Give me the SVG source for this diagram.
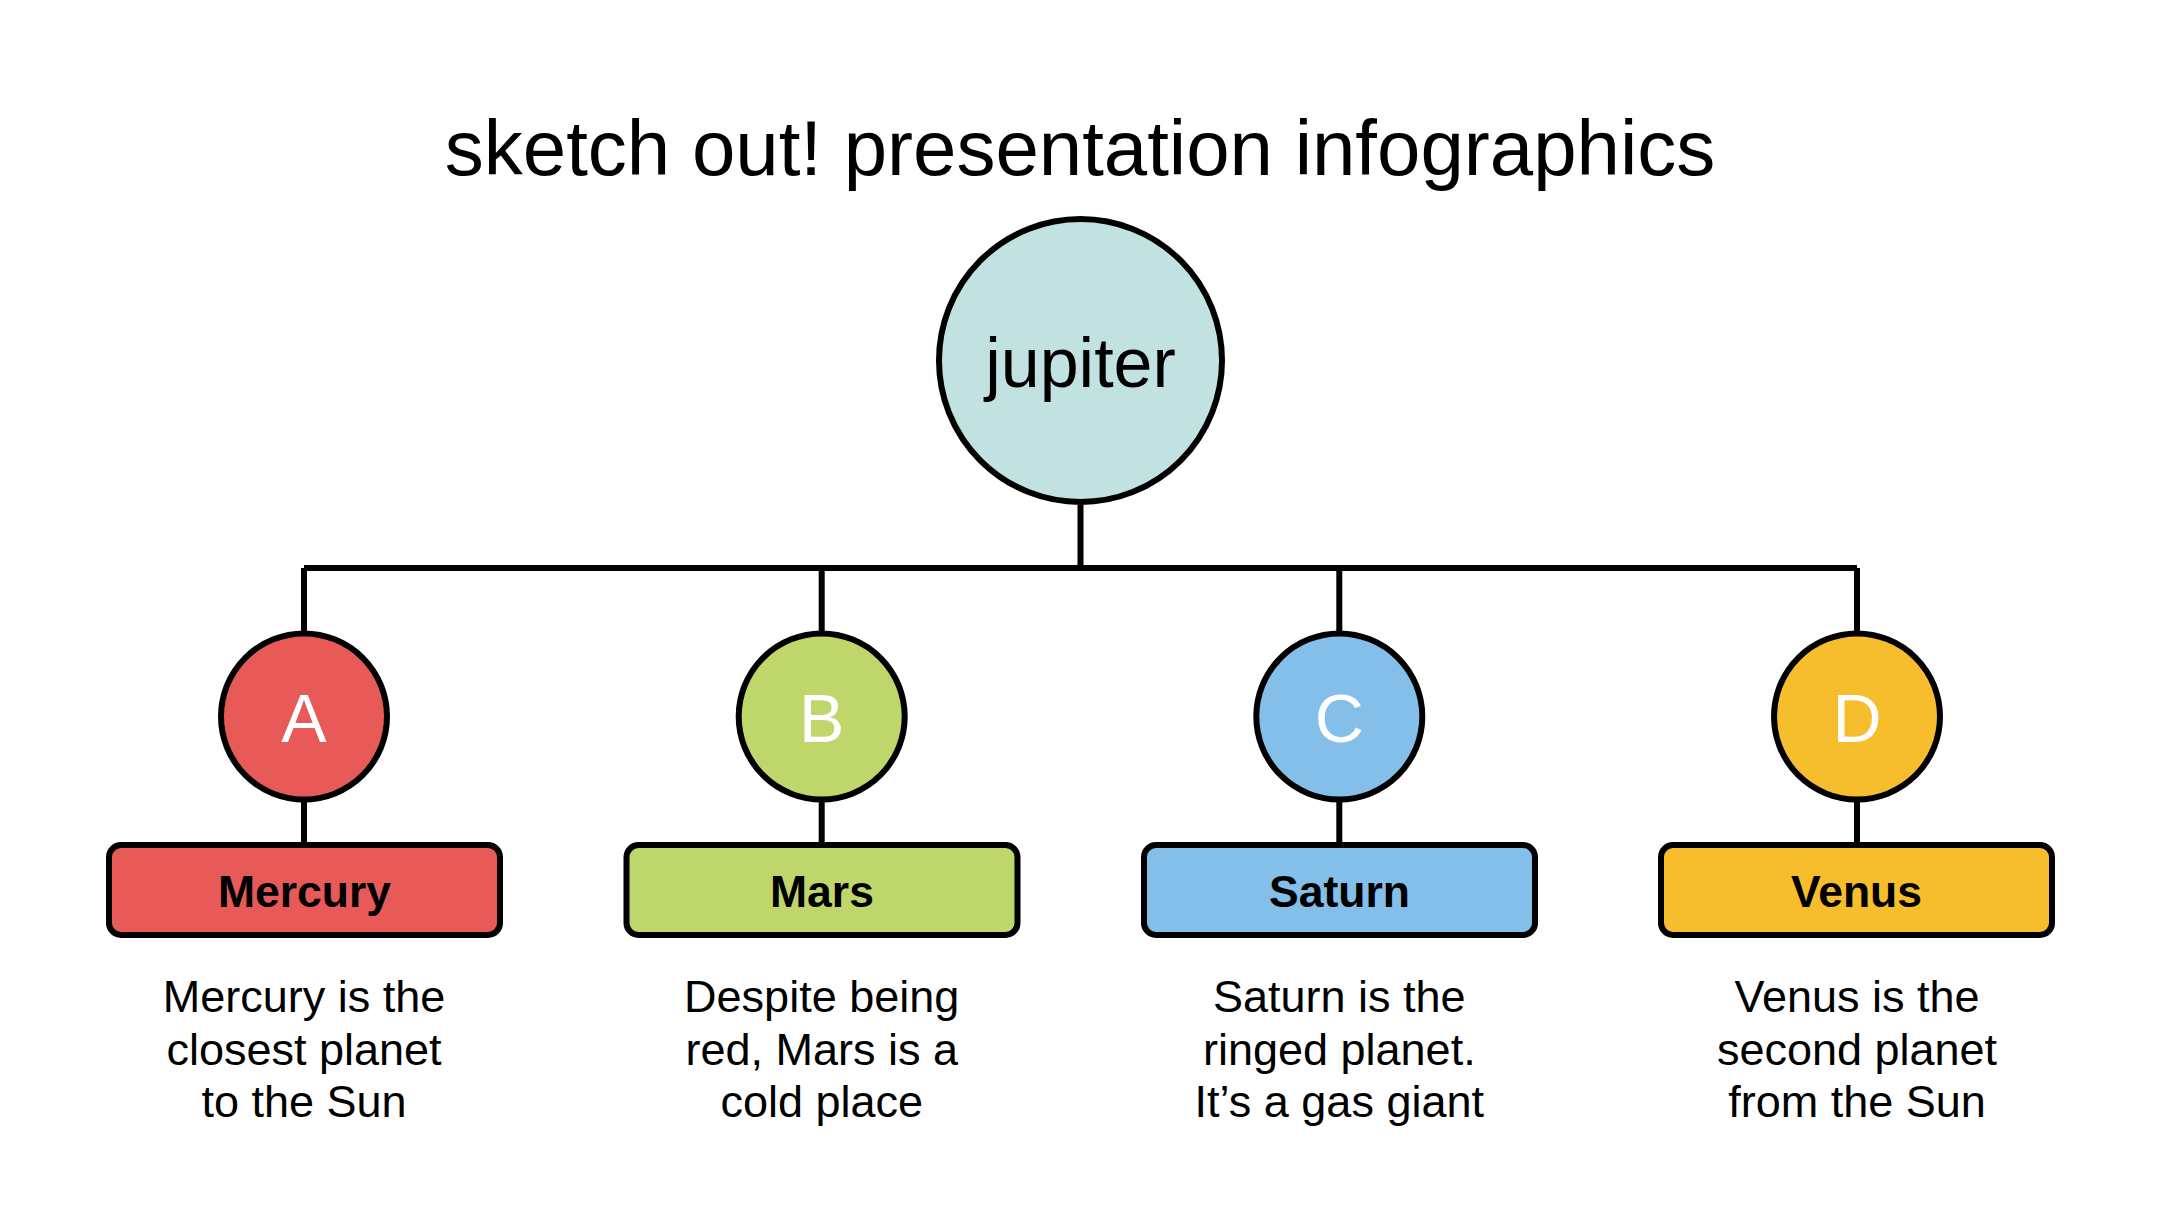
<svg xmlns="http://www.w3.org/2000/svg" width="2160" height="1215" viewBox="0 0 2160 1215">
<style>
.ln{stroke:#000;stroke-width:6;fill:none}
.ol{stroke:#000;stroke-width:6}
.t{font-family:"Liberation Sans",Arial,sans-serif;fill:#000;text-anchor:middle}
.title{font-size:78px}
.big{font-size:70px}
.let{font-size:68px;fill:#fff}
.lab{font-size:44.5px;font-weight:bold}
.desc{font-size:45px}
</style>
<rect width="2160" height="1215" fill="#fff"/>
<text class="t title" x="1080" y="175">sketch out! presentation infographics</text>
<g id="connectors">
<path class="ln" d="M1080.5 505V568M304 568H1857M304 568V631M821.7 568V631M1339.3 568V631M1857 568V631"/>
<path class="ln" d="M304 802V842M821.7 802V842M1339.3 802V842M1857 802V842"/>
</g>
<g id="jupiter">
<circle class="ol" cx="1080.5" cy="360.5" r="141.5" fill="#C2E2E2"/>
<text class="t big" x="1080.5" y="387">jupiter</text>
</g>
<g id="node-a">
<circle class="ol" cx="304" cy="716.5" r="83" fill="#E85A58"/>
<text class="t let" x="304" y="742">A</text>
</g>
<g id="box-mercury">
<rect class="ol" x="109" y="845" width="391" height="90" rx="12" fill="#E85A58"/>
<text class="t lab" x="304.5" y="907">Mercury</text>
</g>
<g id="desc-mercury">
<text class="t desc" x="304" y="1012">Mercury is the</text>
<text class="t desc" x="304" y="1065">closest planet</text>
<text class="t desc" x="304" y="1117">to the Sun</text>
</g>
<g id="node-b">
<circle class="ol" cx="821.7" cy="716.5" r="83" fill="#BFD66A"/>
<text class="t let" x="821.7" y="742">B</text>
</g>
<g id="box-mars">
<rect class="ol" x="626.5" y="845" width="391" height="90" rx="12" fill="#BFD66A"/>
<text class="t lab" x="822" y="907">Mars</text>
</g>
<g id="desc-mars">
<text class="t desc" x="821.7" y="1012">Despite being</text>
<text class="t desc" x="821.7" y="1065">red, Mars is a</text>
<text class="t desc" x="821.7" y="1117">cold place</text>
</g>
<g id="node-c">
<circle class="ol" cx="1339.3" cy="716.5" r="83" fill="#84BFEA"/>
<text class="t let" x="1339.3" y="742">C</text>
</g>
<g id="box-saturn">
<rect class="ol" x="1144" y="845" width="391" height="90" rx="12" fill="#84BFEA"/>
<text class="t lab" x="1339.5" y="907">Saturn</text>
</g>
<g id="desc-saturn">
<text class="t desc" x="1339.3" y="1012">Saturn is the</text>
<text class="t desc" x="1339.3" y="1065">ringed planet.</text>
<text class="t desc" x="1339.3" y="1117">It’s a gas giant</text>
</g>
<g id="node-d">
<circle class="ol" cx="1857" cy="716.5" r="83" fill="#F6BD2D"/>
<text class="t let" x="1857" y="742">D</text>
</g>
<g id="box-venus">
<rect class="ol" x="1661" y="845" width="391" height="90" rx="12" fill="#F6BD2D"/>
<text class="t lab" x="1856.5" y="907">Venus</text>
</g>
<g id="desc-venus">
<text class="t desc" x="1857" y="1012">Venus is the</text>
<text class="t desc" x="1857" y="1065">second planet</text>
<text class="t desc" x="1857" y="1117">from the Sun</text>
</g>
</svg>
